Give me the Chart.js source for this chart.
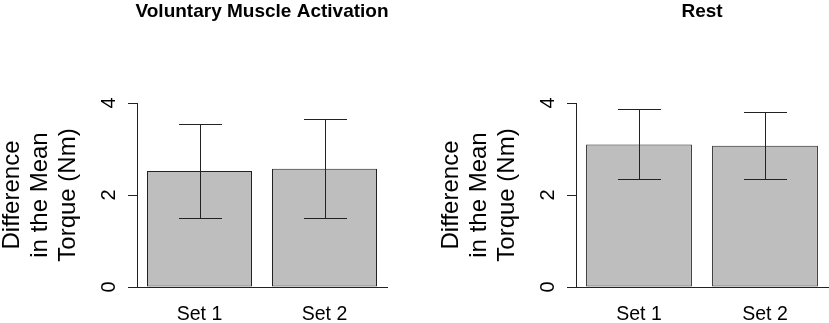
<!DOCTYPE html>
<html>
<head>
<meta charset="utf-8">
<script src="https://cdn.jsdelivr.net/npm/chart.js@4.4.0/dist/chart.umd.min.js"></script>
<style>
  html, body { margin: 0; padding: 0; background: #fff; }
  body { width: 829px; height: 323px; position: relative; overflow: hidden; }
  .panel { position: absolute; top: 0; height: 323px; }
  #left { left: 0; width: 414px; }
  #right { left: 439px; width: 390px; }
</style>
</head>
<body>
<div class="panel" id="left"><canvas id="chartLeft"></canvas></div>
<div class="panel" id="right"><canvas id="chartRight"></canvas></div>
<script>
const categories = ['Set 1', 'Set 2'];
const yTicks = [0, 2, 4];
const yTitle = ['Difference', 'in the Mean', 'Torque (Nm)'];

const vmaTitle = 'Voluntary Muscle Activation';
const vmaMeans = [2.52, 2.57];
const vmaLower = [1.50, 1.50];
const vmaUpper = [3.55, 3.65];

const restTitle = 'Rest';
const restMeans = [3.10, 3.07];
const restLower = [2.35, 2.34];
const restUpper = [3.86, 3.80];

const FONT = "'Liberation Sans', Arial, Helvetica, sans-serif";

// error bars, rotated y tick labels and the panel title, R style
const rStylePlugin = {
    id: 'rStyle',
    afterDatasetsDraw(chart, args, opts) {
        const ctx = chart.ctx;
        const x = chart.scales.x;
        const y = chart.scales.y;
        const area = chart.chartArea;
        ctx.save();
        ctx.strokeStyle = '#222';
        ctx.lineWidth = 1;
        opts.lower.forEach((lo, i) => {
            const cx = Math.round(x.getPixelForValue(i)) + 0.5;
            const yLo = Math.round(y.getPixelForValue(lo)) + 0.5;
            const yHi = Math.round(y.getPixelForValue(opts.upper[i])) + 0.5;
            ctx.beginPath();
            ctx.moveTo(cx, yLo); ctx.lineTo(cx, yHi);
            ctx.moveTo(cx - 21.5, yLo); ctx.lineTo(cx + 21.5, yLo);
            ctx.moveTo(cx - 21.5, yHi); ctx.lineTo(cx + 21.5, yHi);
            ctx.stroke();
        });

        ctx.fillStyle = '#000';
        ctx.font = '20px ' + FONT;
        ctx.textAlign = 'center';
        ctx.textBaseline = 'alphabetic';
        yTicks.forEach(v => {
            ctx.save();
            ctx.translate(area.left - 22, y.getPixelForValue(v));
            ctx.rotate(-Math.PI / 2);
            ctx.fillText(String(v), 0, 0);
            ctx.restore();
        });

        ctx.font = 'bold 19px ' + FONT;
        ctx.fillText(opts.title, (area.left + area.right) / 2, 17);
        ctx.restore();
    }
};

function makeChart(id, title, means, lower, upper, padRight) {
    const ctx = document.getElementById(id).getContext('2d');
    return new Chart(ctx, {
        type: 'bar',
        data: {
            labels: categories,
            datasets: [{
                data: means,
                backgroundColor: '#bebebe',
                borderColor: '#222',
                borderWidth: 1,
                borderSkipped: false,
                barPercentage: 0.84,
                categoryPercentage: 1
            }]
        },
        options: {
            responsive: true,
            maintainAspectRatio: false,
            animation: false,
            layout: { padding: { top: 103, right: padRight, bottom: 0, left: 0 } },
            scales: {
                x: {
                    grid: { display: false, drawTicks: false },
                    border: { display: true, color: '#222', width: 1 },
                    ticks: { color: '#000', font: { family: FONT, size: 19.5 }, padding: 16 },
                    afterFit: (scale) => { scale.height = 36; }
                },
                y: {
                    min: 0,
                    max: 4,
                    ticks: { stepSize: 2, display: false },
                    grid: { display: true, drawOnChartArea: false, drawTicks: true, tickLength: 9, color: '#222' },
                    border: { display: true, color: '#222', width: 1 },
                    title: {
                        display: true,
                        text: yTitle,
                        color: '#000',
                        font: { family: FONT, size: 24, lineHeight: 28 / 24 },
                        padding: { top: -2, bottom: 0 }
                    },
                    afterFit: (scale) => { scale.width = 137; }
                }
            },
            plugins: {
                legend: { display: false },
                tooltip: { enabled: false },
                rStyle: { title: title, lower: lower, upper: upper }
            }
        },
        plugins: [rStylePlugin]
    });
}

makeChart('chartLeft', vmaTitle, vmaMeans, vmaLower, vmaUpper, 27);
makeChart('chartRight', restTitle, restMeans, restLower, restUpper, 1);
</script>
</body>
</html>
